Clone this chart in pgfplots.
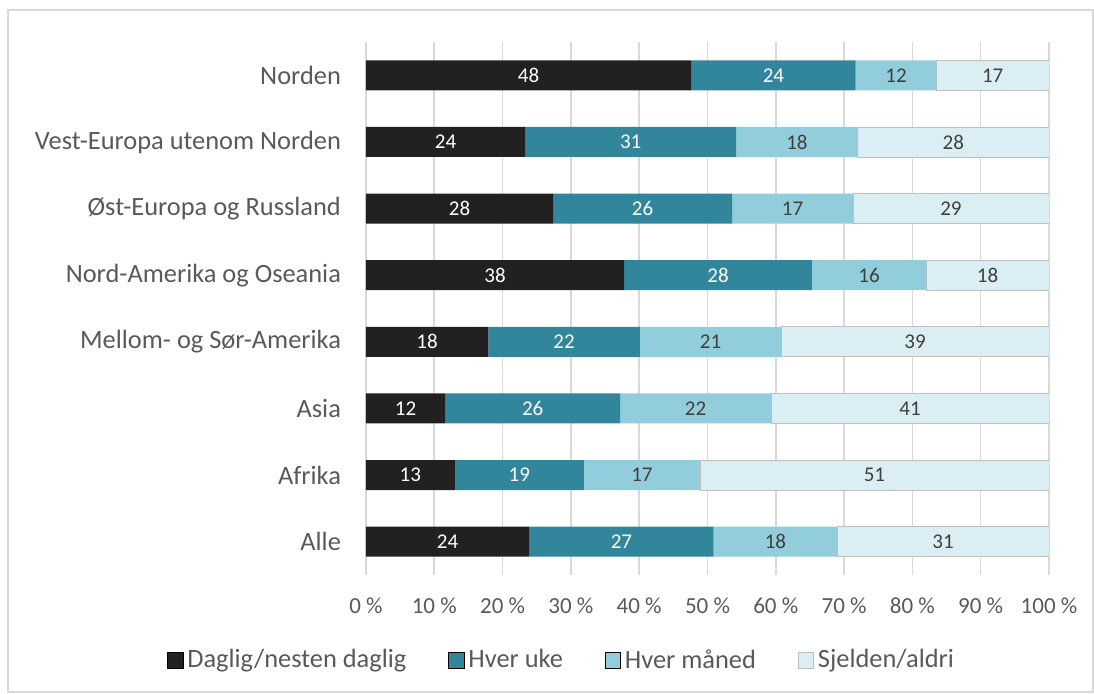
\documentclass[border=0pt]{standalone}
\usepackage{fontspec}
\setmainfont{Carlito}
\usepackage{pgfplots}
\usepackage{pgfplotstable}
\pgfplotsset{compat=1.18}
\usepackage{xcolor}
\definecolor{cdaglig}{HTML}{212121}
\definecolor{cuke}{HTML}{31869B}
\definecolor{cmaaned}{HTML}{92CDDC}
\definecolor{csjelden}{HTML}{DAEEF3}
\definecolor{ctekst}{HTML}{595959}
\definecolor{cgrid}{HTML}{D9D9D9}

% andeler lest av figuren (sum 100), etiketter som vist
\pgfplotstableread{
y  a    la  b    lb  c    lc  d    ld
0  47.6 48  24.1 24  11.8 12  16.5 17
1  23.3 24  30.9 31  17.8 18  28.0 28
2  27.4 28  26.2 26  17.7 17  28.7 29
3  37.8 38  27.5 28  16.7 16  18.0 18
4  17.9 18  22.2 22  20.7 21  39.2 39
5  11.6 12  25.6 26  22.1 22  40.7 41
6  13.0 13  18.9 19  17.0 17  51.1 51
7  23.9 24  27.0 27  18.1 18  31.0 31
}\andeler

\begin{document}
\begin{tikzpicture}[font=\fontsize{11.5}{13}\selectfont]
% ramme rundt hele figuren (1 px = 0.5 pt)
\path (0pt,0pt) rectangle (547pt,-346.5pt);
\draw[cgrid, line width=0.8pt] (4pt,-5pt) rectangle (546.5pt,-346pt);

\begin{axis}[
    at={(183pt,-287.5pt)}, anchor=south west,
    scale only axis,
    width=341.5pt, height=266.5pt,
    xbar stacked,
    bar width=0.45,
    y dir=reverse,
    xmin=0, xmax=100,
    ymin=-0.5, ymax=7.5,
    axis line style={draw=none},
    xtick={0,10,...,100},
    xticklabels={0 \%,10 \%,20 \%,30 \%,40 \%,50 \%,60 \%,70 \%,80 \%,90 \%,100 \%},
    ytick={0,...,7},
    yticklabels={Norden,Vest-Europa utenom Norden,Øst-Europa og Russland,Nord-Amerika og Oseania,Mellom- og Sør-Amerika,Asia,Afrika,Alle},
    major tick length=0pt,
    xmajorgrids,
    grid style={cgrid, line width=0.8pt},
    tick label style={ctekst},
    xticklabel style={yshift=-8pt, font=\fontsize{11.5}{13}\selectfont},
    yticklabel style={xshift=-9pt, font=\fontsize{13.2}{15}\selectfont},
    point meta=explicit symbolic,
    nodes near coords,
    every node near coord/.append style={font=\fontsize{10.5}{12}\selectfont},
    legend columns=4,
    legend style={at={(axis description cs:0.288,-0.16)}, anchor=center,
        draw=none, fill=none, text=ctekst,
        font=\fontsize{13.2}{15}\selectfont,
        /tikz/every even column/.append style={column sep=19pt}},
    legend image code/.code={\draw[#1] (0pt,-3.8pt) rectangle (7.6pt,3.8pt);},
]
\addplot[fill=cdaglig, draw=none, every node near coord/.append style={white}]
    table[x=a, y=y, meta=la] {\andeler};
\addplot[fill=cuke, draw=none, every node near coord/.append style={white}]
    table[x=b, y=y, meta=lb] {\andeler};
\addplot[fill=cmaaned, draw=none, every node near coord/.append style={black!75}]
    table[x=c, y=y, meta=lc] {\andeler};
\addplot[fill=csjelden, draw=black!25, every node near coord/.append style={black!75}]
    table[x=d, y=y, meta=ld] {\andeler};
\legend{Daglig/nesten daglig, Hver uke, Hver måned, Sjelden/aldri}
\end{axis}
\end{tikzpicture}
\end{document}
